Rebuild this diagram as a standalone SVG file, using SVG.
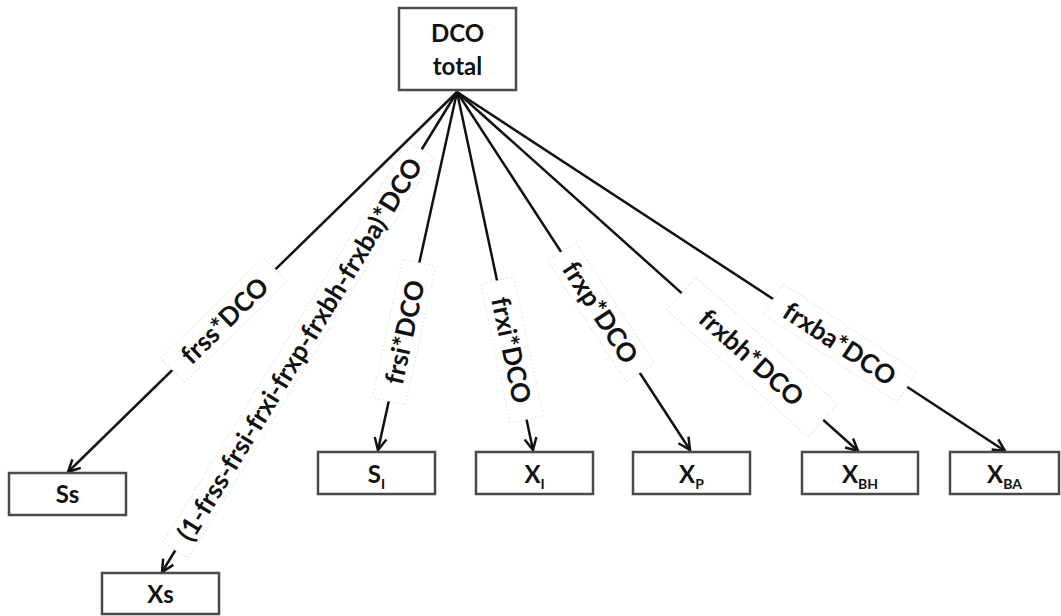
<svg xmlns="http://www.w3.org/2000/svg" width="1061" height="616" viewBox="0 0 1061 616">
<style>
.box{fill:#fff;stroke:#4a4a4a;stroke-width:2.5}
.nt{font-family:Lato,"Open Sans","Liberation Sans",sans-serif;font-weight:bold;font-size:24px;fill:#111;text-anchor:middle}
.sub{font-size:14px}
.edge{stroke:#111;stroke-width:2.5;fill:none}
.lbg{fill:#fff;stroke:#e4e4e4;stroke-width:1;stroke-dasharray:2 2}
.lt{font-family:Lato,"Open Sans","Liberation Sans",sans-serif;font-weight:bold;font-size:26px;fill:#111;text-anchor:middle;dominant-baseline:central}
</style>
<defs>
<marker id="arr" markerUnits="userSpaceOnUse" markerWidth="16" markerHeight="16" viewBox="0 0 16 16" refX="14" refY="8" orient="auto">
<path d="M2,2 L14,8 L2,14" fill="none" stroke="#111" stroke-width="2.5" stroke-linejoin="miter"/>
</marker>
</defs>
<rect width="1061" height="616" fill="#fff"/>
<g id="connectors">
<line class="edge" x1="457" y1="92" x2="162" y2="572" marker-end="url(#arr)"/>
<g transform="translate(299,349) rotate(-58.5)"><rect class="lbg" x="-236" y="-15" width="470" height="30"/><text class="lt" x="0" y="0">(1-frss-frsi-frxi-frxp-frxbh-frxba)*DCO</text></g>
<line class="edge" x1="457" y1="92" x2="68" y2="472" marker-end="url(#arr)"/>
<line class="edge" x1="457" y1="92" x2="378" y2="450" marker-end="url(#arr)"/>
<line class="edge" x1="457" y1="92" x2="533" y2="450" marker-end="url(#arr)"/>
<line class="edge" x1="457" y1="92" x2="690" y2="450" marker-end="url(#arr)"/>
<line class="edge" x1="457" y1="92" x2="858" y2="451" marker-end="url(#arr)"/>
<line class="edge" x1="457" y1="92" x2="1005" y2="451" marker-end="url(#arr)"/>
<g transform="translate(224,320) rotate(-44.4)"><rect class="lbg" x="-72" y="-17" width="144" height="34"/><text class="lt" x="0" y="0">frss*DCO</text></g>
<g transform="translate(404,332) rotate(-77.6)"><rect class="lbg" x="-71" y="-17" width="142" height="34"/><text class="lt" x="0" y="0">frsi*DCO</text></g>
<g transform="translate(512,350) rotate(78.1)"><rect class="lbg" x="-71" y="-17" width="142" height="34"/><text class="lt" x="0" y="0">frxi*DCO</text></g>
<g transform="translate(601,312) rotate(57)"><rect class="lbg" x="-72" y="-17" width="144" height="34"/><text class="lt" x="0" y="0">frxp*DCO</text></g>
<g transform="translate(752,357) rotate(41.9)"><rect class="lbg" x="-95" y="-22" width="190" height="44"/><text class="lt" x="0" y="0">frxbh*DCO</text></g>
<g transform="translate(840,343) rotate(33.3)"><rect class="lbg" x="-80" y="-18" width="160" height="36"/><text class="lt" x="0" y="0">frxba*DCO</text></g>
</g>
<g id="dco_total"><rect class="box" x="399" y="8" width="117" height="82"/><text class="nt" x="457.5" y="42">DCO</text><text class="nt" x="457.5" y="75">total</text></g>
<g id="ss"><rect class="box" x="9" y="473" width="117" height="42"/><text class="nt" x="67.5" y="503">Ss</text></g>
<g id="xs"><rect class="box" x="102" y="573" width="117" height="41"/><text class="nt" x="160.5" y="603">Xs</text></g>
<g id="si"><rect class="box" x="318" y="452" width="117" height="42"/><text class="nt" x="376.5" y="483">S<tspan class="sub" dy="6">I</tspan></text></g>
<g id="xi"><rect class="box" x="476" y="452" width="117" height="42"/><text class="nt" x="534.5" y="483">X<tspan class="sub" dy="6">I</tspan></text></g>
<g id="xp"><rect class="box" x="633" y="452" width="117" height="42"/><text class="nt" x="691.5" y="483">X<tspan class="sub" dy="6">P</tspan></text></g>
<g id="xbh"><rect class="box" x="802" y="452" width="116" height="42"/><text class="nt" x="860" y="483">X<tspan class="sub" dy="6">BH</tspan></text></g>
<g id="xba"><rect class="box" x="950" y="452" width="109" height="42"/><text class="nt" x="1004.5" y="483">X<tspan class="sub" dy="6">BA</tspan></text></g>
</svg>
